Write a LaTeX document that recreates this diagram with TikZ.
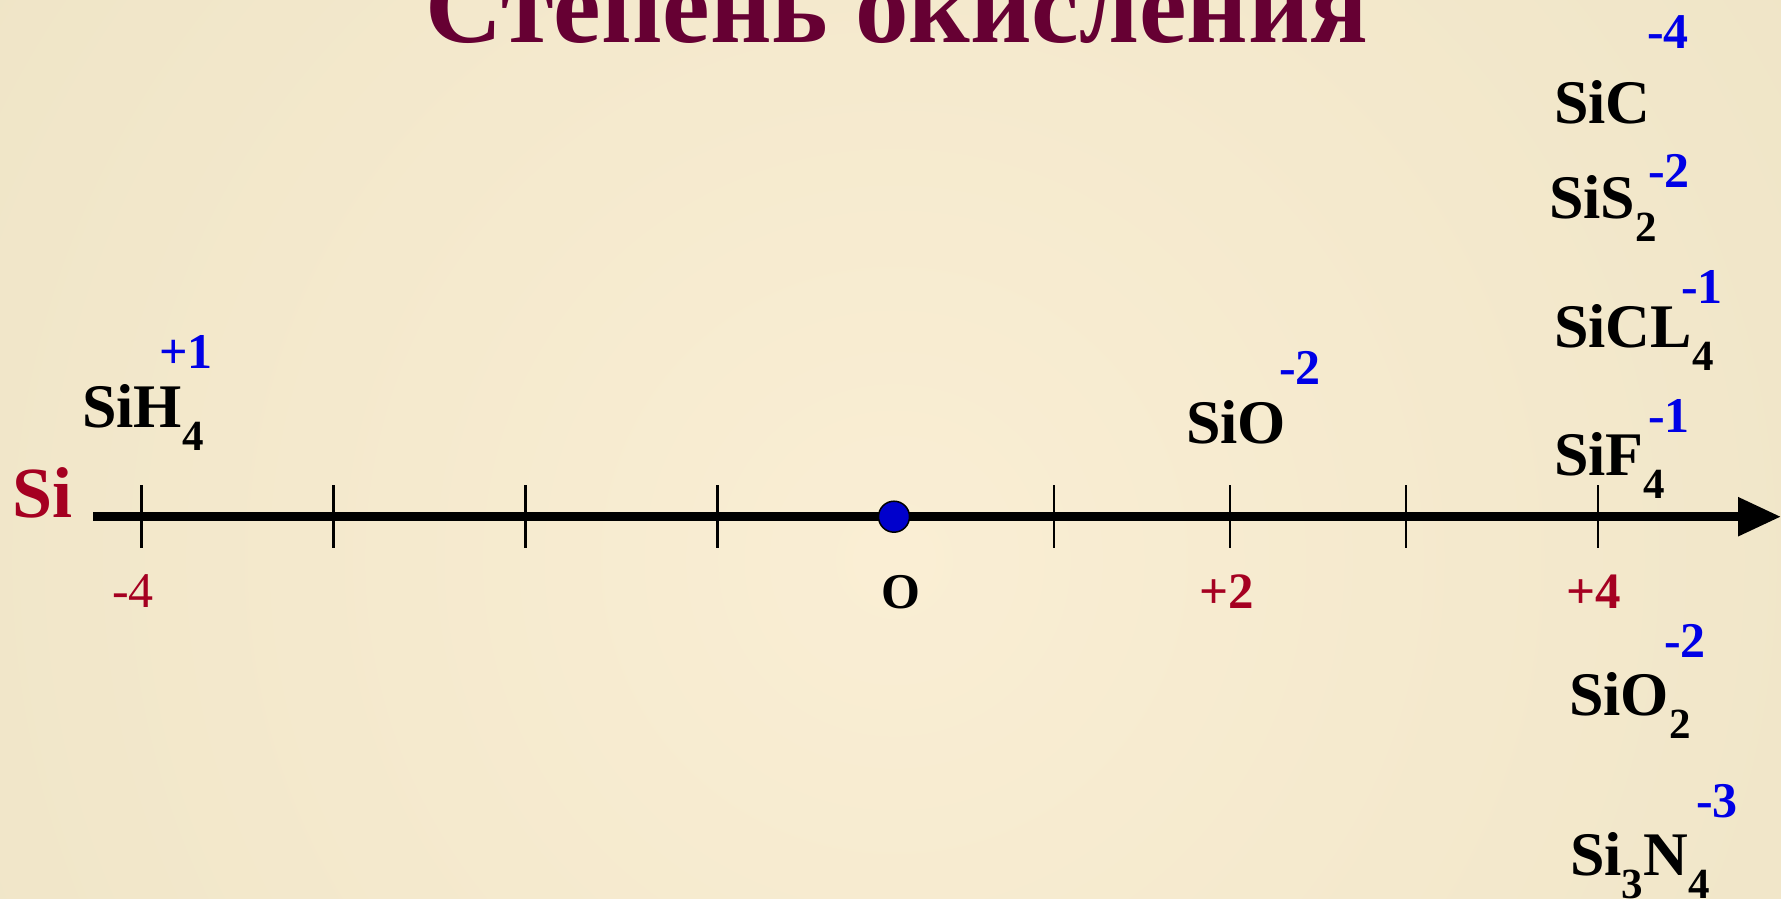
\documentclass[tikz,border=0pt]{standalone}
\usepackage{fontspec}
\setmainfont{Liberation Serif}
\usetikzlibrary{arrows.meta}
\definecolor{titlecol}{RGB}{102,0,51}
\definecolor{labred}{RGB}{165,0,33}
\definecolor{supblue}{RGB}{0,0,230}
\definecolor{dotblue}{RGB}{0,0,204}
\definecolor{bgin}{RGB}{250,238,212}
\definecolor{bgout}{RGB}{230,221,188}
\newcommand{\chemsub}[1]{\raisebox{-23pt}{\fontsize{43}{43}\selectfont\bfseries #1}}
\tikzset{
  formula/.style={anchor=base west, inner sep=0pt, font=\fontsize{62}{62}\selectfont\bfseries, text=black},
  oxstate/.style={anchor=base west, inner sep=0pt, font=\fontsize{50}{50}\selectfont\bfseries, text=supblue},
  axlabel/.style={anchor=base west, inner sep=0pt, font=\fontsize{51}{51}\selectfont\bfseries, text=labred},
  tickmark/.style={line width=2.2pt, black},
  axisline/.style={line width=8.7pt, black, -{Triangle[length=43pt,width=37pt]}},
}
\begin{document}
\begin{tikzpicture}[x=1pt, y=-1pt]
\useasboundingbox (0,0) rectangle (1781,898);
% background
\begin{scope}
  \clip (0,0) rectangle (1781,898);
  \shade[inner color=bgin, outer color=bgout] (-1106,-1440) rectangle (2894,2560);
\end{scope}
% title
\node[anchor=base west, inner sep=0pt, text=titlecol, font=\fontsize{107}{107}\selectfont\bfseries] (title) at (425,42) {Степень окисления};
% axis
\coordinate (axS) at (93,516.7);
\coordinate (axE) at (1781,516.7);
\draw[axisline] (axS) -- (axE);
\foreach \x in {141.5,333.5,525.5,717.5,1053.7,1229.7,1405.7,1597.7}
  \draw[tickmark] (\x,485) -- (\x,548);
\node[circle, fill=dotblue, draw=black, line width=1.5pt, minimum size=31pt, inner sep=0pt] (zero) at (894,516.7) {};
% element label
\node[anchor=base west, inner sep=0pt, text=labred, font=\fontsize{72}{72}\selectfont\bfseries] (si) at (12,517) {Si};
% axis labels
\node[anchor=base west, inner sep=0pt, text=labred, font=\fontsize{50}{50}\selectfont] (lm4) at (112,607) {-4};
\node[anchor=base west, inner sep=0pt, text=black, font=\fontsize{50}{50}\selectfont\bfseries] (l0) at (881,608) {O};
\node[axlabel] (lp2) at (1199,608) {+2};
\node[axlabel] (lp4) at (1566,608) {+4};
% formulas
\node[formula] (sih4) at (82,427) {SiH\chemsub{4}};
\node[oxstate] (sih4ox) at (159,368) {+1};
\node[formula] (sio) at (1186,443) {SiO};
\node[oxstate] (sioox) at (1279,384) {-2};
\node[formula] (sic) at (1554,123) {SiC};
\node[oxstate] (sicox) at (1647,48) {-4};
\node[formula] (sis2) at (1549,218) {SiS\chemsub{2}};
\node[oxstate] (sis2ox) at (1648,187) {-2};
\node[formula] (sicl4) at (1554,347) {SiCL\chemsub{4}};
\node[oxstate] (sicl4ox) at (1681,303) {-1};
\node[formula] (sif4) at (1554,475) {SiF\chemsub{4}};
\node[oxstate] (sif4ox) at (1648,432) {-1};
\node[formula] (sio2) at (1569,715) {SiO\chemsub{2}};
\node[oxstate] (sio2ox) at (1664,657) {-2};
\node[formula] (si3n4) at (1570,875) {Si\chemsub{3}N\chemsub{4}};
\node[oxstate] (si3n4ox) at (1696,817) {-3};
\end{tikzpicture}
\end{document}
